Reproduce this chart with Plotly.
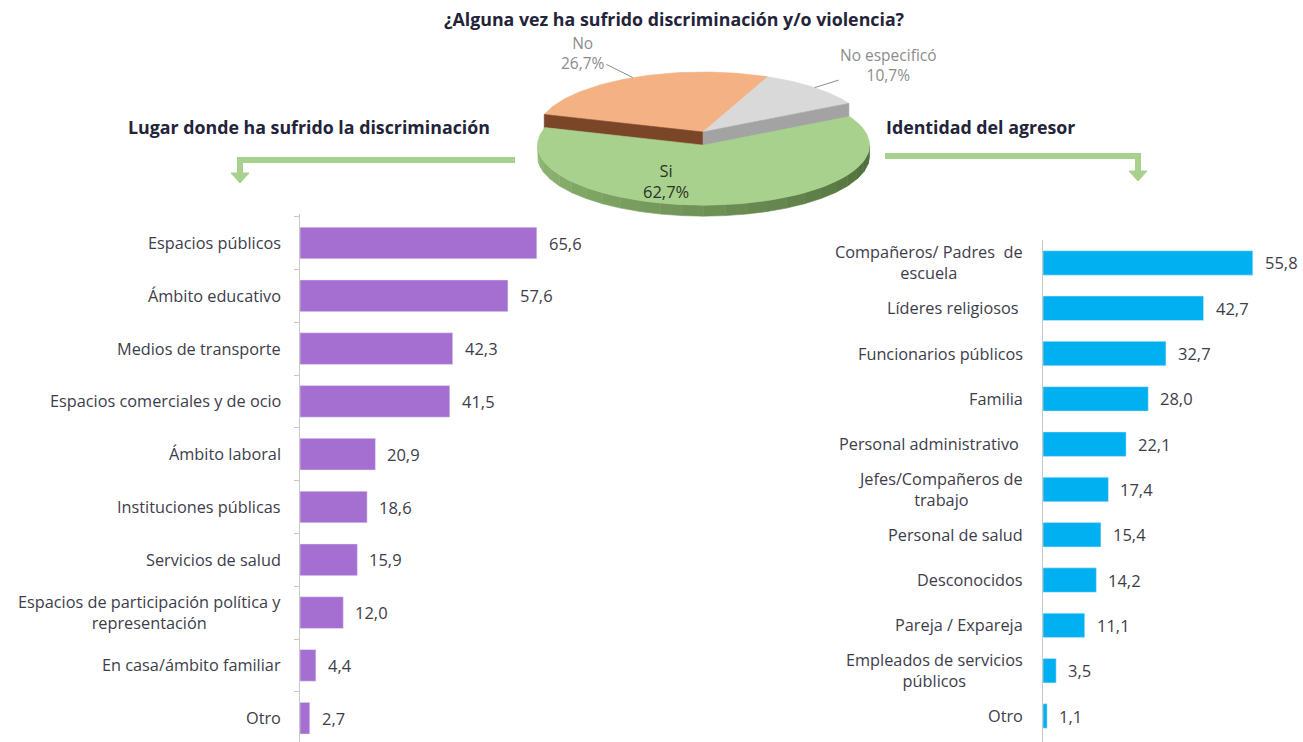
import math
import plotly.graph_objects as go

# ---------------- data ----------------
title_text = "¿Alguna vez ha sufrido discriminación y/o violencia?"
pie_labels = ["No", "No especificó", "Si"]
pie_values = [26.7, 10.7, 62.7]

left_title = "Lugar donde ha sufrido la discriminación"
left_cats = ["Espacios públicos", "Ámbito educativo", "Medios de transporte",
             "Espacios comerciales y de ocio", "Ámbito laboral", "Instituciones públicas",
             "Servicios de salud", "Espacios de participación política y<br>representación",
             "En casa/ámbito familiar", "Otro"]
left_vals = [65.6, 57.6, 42.3, 41.5, 20.9, 18.6, 15.9, 12.0, 4.4, 2.7]

right_title = "Identidad del agresor"
right_cats = ["Compañeros/ Padres  de<br>escuela", "Líderes religiosos ", "Funcionarios públicos",
              "Familia", "Personal administrativo ", "Jefes/Compañeros de<br>trabajo",
              "Personal de salud", "Desconocidos", "Pareja / Expareja",
              "Empleados de servicios<br>públicos", "Otro"]
right_vals = [55.8, 42.7, 32.7, 28.0, 22.1, 17.4, 15.4, 14.2, 11.1, 3.5, 1.1]

# ---------------- styling ----------------
W, H = 1303, 742
FONT = "Open Sans"
TXT = "#3d3d4a"
PURPLE = "#a56fd1"
BLUE = "#00b0f0"
ARROW_GREEN = "#a9d18e"
LBL = 16.3
VAL = 16.5
TTL = 17.8

def fmt(v):
    return f"{v:.1f}".replace(".", ",")

fig = go.Figure()

# ---------------- bars ----------------
fig.add_trace(go.Bar(x=left_vals, y=left_cats, orientation="h", marker_color=PURPLE,
                     width=0.6, xaxis="x", yaxis="y", showlegend=False, hoverinfo="skip"))
fig.add_trace(go.Bar(x=right_vals, y=right_cats, orientation="h", marker_color=BLUE,
                     width=0.54, xaxis="x2", yaxis="y2", showlegend=False, hoverinfo="skip"))

annotations = []
for c, v in zip(left_cats, left_vals):
    annotations.append(dict(xref="paper", yref="y", x=283 / W, y=c, text=c, showarrow=False,
                            xanchor="right", align="center", font=dict(size=LBL, color=TXT, family=FONT)))
    annotations.append(dict(xref="x", yref="y", x=v, y=c, text=fmt(v), showarrow=False,
                            xanchor="left", xshift=10, font=dict(size=VAL, color=TXT, family=FONT)))
for c, v in zip(right_cats, right_vals):
    annotations.append(dict(xref="paper", yref="y2", x=1025 / W, y=c, text=c, showarrow=False,
                            xanchor="right", align="center", font=dict(size=LBL, color=TXT, family=FONT)))
    annotations.append(dict(xref="x2", yref="y2", x=v, y=c, text=fmt(v), showarrow=False,
                            xanchor="left", xshift=10, font=dict(size=VAL, color=TXT, family=FONT)))

# ---------------- 3D-looking pie (pixel axes x3/y3) ----------------
CX, CY, RX, RY = 703, 132, 166, 60
DEPTH = 11
START = 163.0
EXPLODE = {"Si": 0.22}
TOP_COL = {"No": "#f4b183", "No especificó": "#d9d9d9", "Si": "#a9d18e"}
FACE_COL = {"No": "#7b4528", "No especificó": "#a3a3a3", "Si": "#6e8f55"}

total = sum(pie_values)
slices = []
a = START
for lab, v in zip(pie_labels, pie_values):
    span = 360.0 * v / total
    slices.append((lab, a, a - span))
    a -= span

def pt(theta, dx=0.0, dy=0.0, down=0.0):
    t = math.radians(theta)
    return CX + dx + RX * math.cos(t), CY + dy - RY * math.sin(t) + down

def offset(lab, a0, a1):
    e = EXPLODE.get(lab, 0.0)
    m = math.radians((a0 + a1) / 2)
    return e * RX * math.cos(m) * 0.15, -e * RY * math.sin(m)

def arc(a0, a1, dx, dy, down=0.0, n=80):
    return [pt(a0 + (a1 - a0) * i / n, dx, dy, down) for i in range(n + 1)]

def poly(points, color):
    xs = [p[0] for p in points] + [points[0][0]]
    ys = [p[1] for p in points] + [points[0][1]]
    fig.add_trace(go.Scatter(x=xs, y=ys, mode="lines", fill="toself", fillcolor=color,
                             line=dict(width=0.6, color=color), xaxis="x3", yaxis="y3",
                             showlegend=False, hoverinfo="skip"))

def mix(c1, c2, f):
    c1 = [int(c1[i:i + 2], 16) for i in (1, 3, 5)]
    c2 = [int(c2[i:i + 2], 16) for i in (1, 3, 5)]
    return "#" + "".join(f"{int(round(x + (y - x) * f)):02x}" for x, y in zip(c1, c2))

# back slices: top faces then visible radial faces
for lab, a0, a1 in slices:
    if lab == "Si":
        continue
    dx, dy = offset(lab, a0, a1)
    poly([(CX + dx, CY + dy)] + arc(a0, a1, dx, dy), TOP_COL[lab])
for lab, a0, a1 in slices:
    if lab == "Si":
        continue
    dx, dy = offset(lab, a0, a1)
    edge = a0 if lab == "No" else a1
    c = (CX + dx, CY + dy)
    r = pt(edge, dx, dy)
    poly([c, r, (r[0], r[1] + DEPTH + 4), (c[0], c[1] + DEPTH + 4)], FACE_COL[lab])

# front slice: outer wall (shaded in segments) then top face
for lab, a0, a1 in slices:
    if lab != "Si":
        continue
    dx, dy = offset(lab, a0, a1)
    lo, hi = max(a1, -180.0), min(a0, 0.0)
    nseg = 24
    for k in range(nseg):
        s0 = hi + (lo - hi) * k / nseg
        s1 = hi + (lo - hi) * (k + 1) / nseg
        top = arc(s0, s1, dx, dy, 0, 6)
        bot = arc(s1, s0, dx, dy, DEPTH, 6)
        f = k / (nseg - 1)
        col = mix("#4e6b3a", "#8fb873", f)
        poly(top + bot, col)
    poly([(CX + dx, CY + dy)] + arc(a0, a1, dx, dy), TOP_COL[lab])

# pie labels
pct = {lab: f"{v:.1f}".replace(".", ",") + "%" for lab, v in zip(pie_labels, pie_values)}
LABEL_OFF = {"No": (-50, -25), "No especificó": (74, -23)}
for lab, a0, a1 in slices:
    dx, dy = offset(lab, a0, a1)
    mid = (a0 + a1) / 2
    if lab == "Si":
        annotations.append(dict(xref="x3", yref="y3", x=CX + dx - 38, y=CY + dy + 36,
                                text=f"{lab}<br>{pct[lab]}", showarrow=False, align="center",
                                font=dict(size=16.5, color="#2b3326", family=FONT)))
    else:
        px, py = pt(mid, dx, dy)
        ax, ay = LABEL_OFF[lab]
        annotations.append(dict(xref="x3", yref="y3", x=px, y=py, ax=ax, ay=ay,
                                text=f"{lab}<br>{pct[lab]}", showarrow=True, arrowhead=0,
                                arrowwidth=1, arrowcolor="#8c8c8c", standoff=0, align="center",
                                font=dict(size=15.5, color="#8c8c8c", family=FONT)))

# titles
annotations.append(dict(xref="paper", yref="paper", x=674 / W, y=1 - 19 / H, text=f"<b>{title_text}</b>",
                        showarrow=False, xanchor="center", yanchor="middle",
                        font=dict(size=TTL, color="#23233a", family=FONT)))
annotations.append(dict(xref="paper", yref="paper", x=309 / W, y=1 - 127 / H, text=f"<b>{left_title}</b>",
                        showarrow=False, xanchor="center", yanchor="middle",
                        font=dict(size=TTL, color="#23233a", family=FONT)))
annotations.append(dict(xref="paper", yref="paper", x=884 / W, y=1 - 127 / H, text=f"<b>{right_title}</b>",
                        showarrow=False, xanchor="left", yanchor="middle",
                        font=dict(size=TTL, color="#23233a", family=FONT)))

# green connector arrows
shapes = [
    dict(type="path", xref="x3", yref="y3", path="M 515 160 L 240 160 L 240 174",
         line=dict(color=ARROW_GREEN, width=6)),
    dict(type="path", xref="x3", yref="y3", path="M 231 173 L 249 173 L 240 183 Z",
         fillcolor=ARROW_GREEN, line=dict(color=ARROW_GREEN, width=1)),
    dict(type="path", xref="x3", yref="y3", path="M 885 156 L 1138 156 L 1138 172",
         line=dict(color=ARROW_GREEN, width=6)),
    dict(type="path", xref="x3", yref="y3", path="M 1129 171 L 1147 171 L 1138 181 Z",
         fillcolor=ARROW_GREEN, line=dict(color=ARROW_GREEN, width=1)),
]

fig.update_layout(
    width=W, height=H, margin=dict(l=0, r=0, t=0, b=0),
    paper_bgcolor="white", plot_bgcolor="rgba(0,0,0,0)",
    font=dict(family=FONT, color=TXT),
    bargap=0.4,
    xaxis=dict(domain=[300 / W, 640 / W], range=[0, 340 / 3.61], visible=False, fixedrange=True),
    yaxis=dict(domain=[0, 1 - 214 / H], type="category", categoryorder="array",
               categoryarray=left_cats, range=[(H - 243) / 52.8, (214 - 243) / 52.8],
               showline=True, linecolor="#c8c8c8", linewidth=1, ticks="outside",
               tickson="boundaries", ticklen=5, tickcolor="#c8c8c8",
               showticklabels=False, showgrid=False, zeroline=False, anchor="x"),
    xaxis2=dict(domain=[1043 / W, 1.0], range=[0, 260 / 3.76], visible=False, fixedrange=True),
    yaxis2=dict(domain=[0, 1 - 240.3 / H], type="category", categoryorder="array",
                categoryarray=right_cats, range=[(H - 263) / 45.3, -0.5],
                showline=True, linecolor="#c8c8c8", linewidth=1, ticks="",
                showticklabels=False, showgrid=False, zeroline=False, anchor="x2"),
    xaxis3=dict(domain=[0, 1], range=[0, W], visible=False, anchor="y3"),
    yaxis3=dict(domain=[0, 1], range=[H, 0], visible=False, anchor="x3"),
    annotations=annotations,
    shapes=shapes,
)

fig.write_html("out.html", config={"displayModeBar": False},
               post_script="document.body.style.margin='0';document.body.style.overflow='hidden';")
